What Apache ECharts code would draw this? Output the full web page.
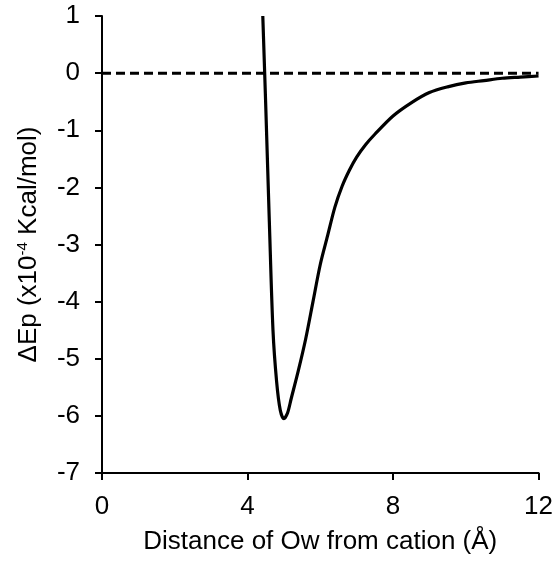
<!DOCTYPE html>
<html>
<head>
<meta charset="utf-8">
<script src="https://cdn.jsdelivr.net/npm/echarts@6/dist/echarts.min.js"></script>
<style>
  html, body { margin: 0; padding: 0; background: #fff; }
  #chart { width: 556px; height: 561px; }
</style>
</head>
<body>
<div id="chart"></div>
<script>
// distance (Å) and energy change (x10^-4 Kcal/mol)
const distX = [4.42, 4.5, 4.6, 4.7, 4.8, 4.9, 5.0, 5.1, 5.2, 5.4, 5.6, 5.8, 6.0, 6.2, 6.4, 6.6, 6.8, 7.0, 7.25, 7.5, 8.0, 8.5, 9.0, 9.5, 10.0, 10.5, 11.0, 11.5, 12.0];
const energyY = [1.0, -0.55, -2.6, -4.5, -5.4, -5.9, -6.05, -5.95, -5.7, -5.2, -4.65, -4.0, -3.35, -2.85, -2.35, -1.98, -1.7, -1.47, -1.25, -1.07, -0.75, -0.52, -0.34, -0.24, -0.17, -0.13, -0.09, -0.07, -0.05];
const zeroX = [0, 12];
const zeroY = [0, 0];

const fontFam = 'Liberation Sans, Arial, sans-serif';

let myChart = echarts.init(document.getElementById('chart'));
let option = {
    animation: false,
    grid: { left: 102, right: 16, top: 16, bottom: 88 },
    xAxis: {
        type: 'value',
        min: 0, max: 12, interval: 4,
        name: 'Distance of Ow from cation (Å)',
        nameLocation: 'middle',
        nameGap: 56,
        nameTextStyle: { fontFamily: fontFam, fontSize: 26, color: '#000' },
        axisLine: { onZero: false, lineStyle: { color: '#000', width: 2 } },
        axisTick: { length: 7, lineStyle: { color: '#000', width: 2 } },
        axisLabel: { fontFamily: fontFam, fontSize: 26, color: '#000', margin: 21 },
        splitLine: { show: false }
    },
    yAxis: {
        type: 'value',
        min: -7, max: 1, interval: 1,
        name: '{a|ΔEp (x10}{b|-4}{a| Kcal/mol)}',
        nameLocation: 'middle',
        nameGap: 60,
        nameTextStyle: {
            rich: {
                a: { fontFamily: fontFam, fontSize: 26, color: '#000' },
                b: { fontFamily: fontFam, fontSize: 15, color: '#000', padding: [0, 0, 12, 0] }
            }
        },
        axisLine: { show: true, onZero: false, lineStyle: { color: '#000', width: 2 } },
        axisTick: { show: true, length: 7, lineStyle: { color: '#000', width: 2 } },
        axisLabel: { fontFamily: fontFam, fontSize: 26, color: '#000', margin: 22 },
        splitLine: { show: false }
    },
    series: [
        {
            type: 'line',
            data: zeroX.map((x, i) => [x, zeroY[i]]),
            symbol: 'none',
            lineStyle: { color: '#000', width: 3, type: [9, 5] }
        },
        {
            type: 'line',
            data: distX.map((x, i) => [x, energyY[i]]),
            symbol: 'none',
            smooth: 0.3,
            clip: true,
            lineStyle: { color: '#000', width: 3.2 }
        }
    ]
};
myChart.setOption(option);
</script>
</body>
</html>
